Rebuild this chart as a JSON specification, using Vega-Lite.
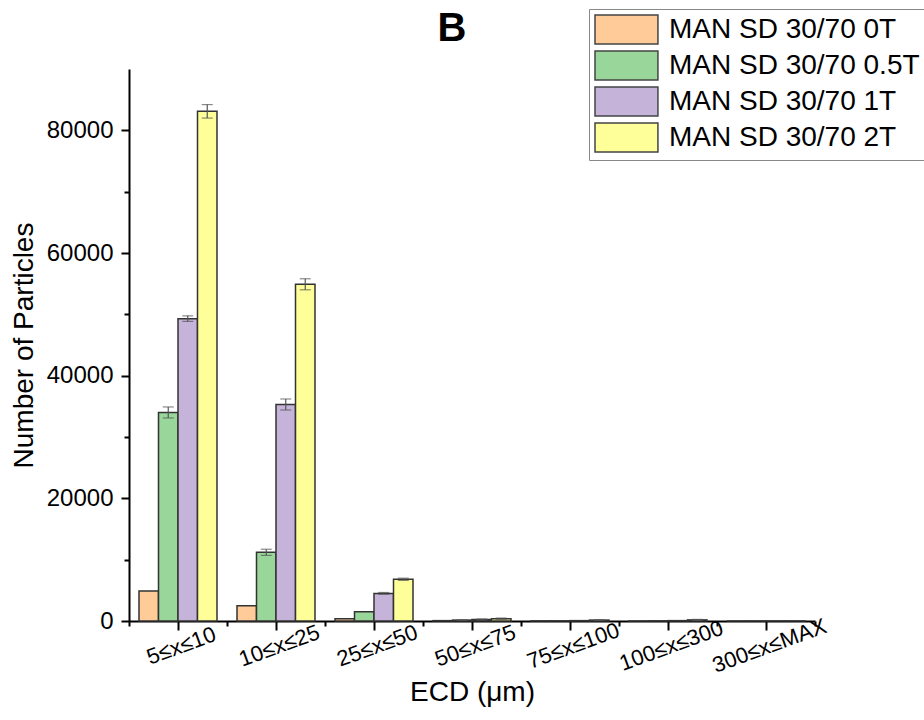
{
  "$schema": "https://vega.github.io/schema/vega-lite/v6.json",
  "width": 686,
  "height": 552,
  "autosize": "none",
  "padding": {"left": 129, "top": 69, "right": 109, "bottom": 99},
  "background": "white",
  "config": {
    "font": "Liberation Sans",
    "view": {"stroke": null},
    "axis": {"grid": false, "labelColor": "black", "titleColor": "black", "domainColor": "black", "tickColor": "black", "titleFontWeight": "normal"}
  },
  "title": {"text": "B", "fontSize": 40, "fontWeight": "bold", "color": "black", "anchor": "middle", "dx": -20, "offset": -40, "font": "Liberation Sans"},
  "data": {"values": [
    {"cat": "5≤x≤10", "series": "MAN SD 30/70 0T", "value": 4900},
    {"cat": "5≤x≤10", "series": "MAN SD 30/70 0.5T", "value": 34000, "lo": 33100, "hi": 34900},
    {"cat": "5≤x≤10", "series": "MAN SD 30/70 1T", "value": 49300, "lo": 48850, "hi": 49750},
    {"cat": "5≤x≤10", "series": "MAN SD 30/70 2T", "value": 83100, "lo": 82000, "hi": 84200},
    {"cat": "10≤x≤25", "series": "MAN SD 30/70 0T", "value": 2500},
    {"cat": "10≤x≤25", "series": "MAN SD 30/70 0.5T", "value": 11200, "lo": 10700, "hi": 11700},
    {"cat": "10≤x≤25", "series": "MAN SD 30/70 1T", "value": 35300, "lo": 34400, "hi": 36200},
    {"cat": "10≤x≤25", "series": "MAN SD 30/70 2T", "value": 54900, "lo": 54000, "hi": 55800},
    {"cat": "25≤x≤50", "series": "MAN SD 30/70 0T", "value": 350},
    {"cat": "25≤x≤50", "series": "MAN SD 30/70 0.5T", "value": 1500},
    {"cat": "25≤x≤50", "series": "MAN SD 30/70 1T", "value": 4500, "lo": 4350, "hi": 4650},
    {"cat": "25≤x≤50", "series": "MAN SD 30/70 2T", "value": 6800, "lo": 6620, "hi": 6980},
    {"cat": "50≤x≤75", "series": "MAN SD 30/70 0T", "value": 60},
    {"cat": "50≤x≤75", "series": "MAN SD 30/70 0.5T", "value": 150, "lo": 100, "hi": 200},
    {"cat": "50≤x≤75", "series": "MAN SD 30/70 1T", "value": 250, "lo": 170, "hi": 330},
    {"cat": "50≤x≤75", "series": "MAN SD 30/70 2T", "value": 380, "lo": 280, "hi": 480},
    {"cat": "75≤x≤100", "series": "MAN SD 30/70 0T", "value": 20},
    {"cat": "75≤x≤100", "series": "MAN SD 30/70 0.5T", "value": 30},
    {"cat": "75≤x≤100", "series": "MAN SD 30/70 1T", "value": 60},
    {"cat": "75≤x≤100", "series": "MAN SD 30/70 2T", "value": 150, "lo": 90, "hi": 210},
    {"cat": "100≤x≤300", "series": "MAN SD 30/70 0T", "value": 20},
    {"cat": "100≤x≤300", "series": "MAN SD 30/70 0.5T", "value": 30},
    {"cat": "100≤x≤300", "series": "MAN SD 30/70 1T", "value": 60},
    {"cat": "100≤x≤300", "series": "MAN SD 30/70 2T", "value": 180, "lo": 100, "hi": 260},
    {"cat": "300≤x≤MAX", "series": "MAN SD 30/70 0T", "value": 0},
    {"cat": "300≤x≤MAX", "series": "MAN SD 30/70 0.5T", "value": 5},
    {"cat": "300≤x≤MAX", "series": "MAN SD 30/70 1T", "value": 10},
    {"cat": "300≤x≤MAX", "series": "MAN SD 30/70 2T", "value": 10}
  ]},
  "resolve": {"axis": {"x": "independent", "y": "independent"}},
  "layer": [
    {
      "mark": {"type": "bar", "stroke": "#333333", "strokeWidth": 1.5},
      "encoding": {
        "x": {"field": "cat", "type": "nominal", "sort": null,
              "scale": {"paddingInner": 0, "paddingOuter": 0},
              "axis": {"orient": "bottom", "title": "ECD (μm)", "titleFontSize": 28, "titlePadding": 2,
                       "labelFontSize": 22, "labelAngle": 340, "labelAlign": "center", "labelBaseline": "top",
                       "labelPadding": 6, "tickSize": 9, "tickWidth": 2, "domainWidth": 2}},
        "xOffset": {"field": "series", "type": "nominal", "sort": null,
                    "scale": {"paddingInner": 0, "paddingOuter": 0.513}},
        "y": {"field": "value", "type": "quantitative",
              "scale": {"domain": [0, 90000], "nice": false},
              "axis": {"orient": "left", "values": [0, 20000, 40000, 60000, 80000], "title": "Number of Particles",
                       "titleFontSize": 28, "titlePadding": 8, "labelFontSize": 24, "labelPadding": 8,
                       "tickSize": 8, "tickWidth": 2, "domainWidth": 2, "format": "d"}},
        "color": {"field": "series", "type": "nominal", "sort": null,
                  "scale": {"domain": ["MAN SD 30/70 0T", "MAN SD 30/70 0.5T", "MAN SD 30/70 1T", "MAN SD 30/70 2T"],
                            "range": ["#FFCC99", "#99D69A", "#C6B3D9", "#FFFF99"]},
                  "legend": {"orient": "none", "legendX": 460, "legendY": -60, "title": null,
                             "labelFontSize": 28, "labelColor": "black", "labelFont": "Liberation Sans", "labelLimit": 400,
                             "symbolType": "M-1,-1H3.34V1H-1Z", "symbolSize": 841,
                             "symbolStrokeColor": "#444444", "symbolStrokeWidth": 1.5, "symbolOpacity": 1,
                             "labelOffset": 44, "rowPadding": 1, "padding": 5,
                             "strokeColor": "#888888", "fillColor": "white"}}
      }
    },
    {
      "mark": {"type": "rule", "color": "#555555", "strokeWidth": 1.2},
      "encoding": {
        "x": {"field": "cat", "type": "nominal", "sort": null,
              "scale": {"paddingInner": 0, "paddingOuter": 0},
              "axis": {"orient": "bottom", "title": null, "labels": false, "domain": false, "tickBand": "extent",
                       "tickSize": 5, "tickWidth": 2}},
        "xOffset": {"field": "series", "type": "nominal", "sort": null,
                    "scale": {"paddingInner": 0, "paddingOuter": 0.513}},
        "y": {"field": "lo", "type": "quantitative", "scale": {"domain": [0, 90000], "nice": false},
              "axis": {"orient": "left", "values": [10000, 30000, 50000, 70000], "title": null, "labels": false,
                       "domain": false, "tickSize": 5, "tickWidth": 2}},
        "y2": {"field": "hi"}
      }
    },
    {
      "mark": {"type": "tick", "orient": "horizontal", "color": "#555555", "size": 11, "thickness": 1.2},
      "encoding": {
        "x": {"field": "cat", "type": "nominal", "sort": null, "scale": {"paddingInner": 0, "paddingOuter": 0}, "axis": null},
        "xOffset": {"field": "series", "type": "nominal", "sort": null, "scale": {"paddingInner": 0, "paddingOuter": 0.513}},
        "y": {"field": "lo", "type": "quantitative", "scale": {"domain": [0, 90000], "nice": false}, "axis": null}
      }
    },
    {
      "mark": {"type": "tick", "orient": "horizontal", "color": "#555555", "size": 11, "thickness": 1.2},
      "encoding": {
        "x": {"field": "cat", "type": "nominal", "sort": null, "scale": {"paddingInner": 0, "paddingOuter": 0}, "axis": null},
        "xOffset": {"field": "series", "type": "nominal", "sort": null, "scale": {"paddingInner": 0, "paddingOuter": 0.513}},
        "y": {"field": "hi", "type": "quantitative", "scale": {"domain": [0, 90000], "nice": false}, "axis": null}
      }
    }
  ]
}
